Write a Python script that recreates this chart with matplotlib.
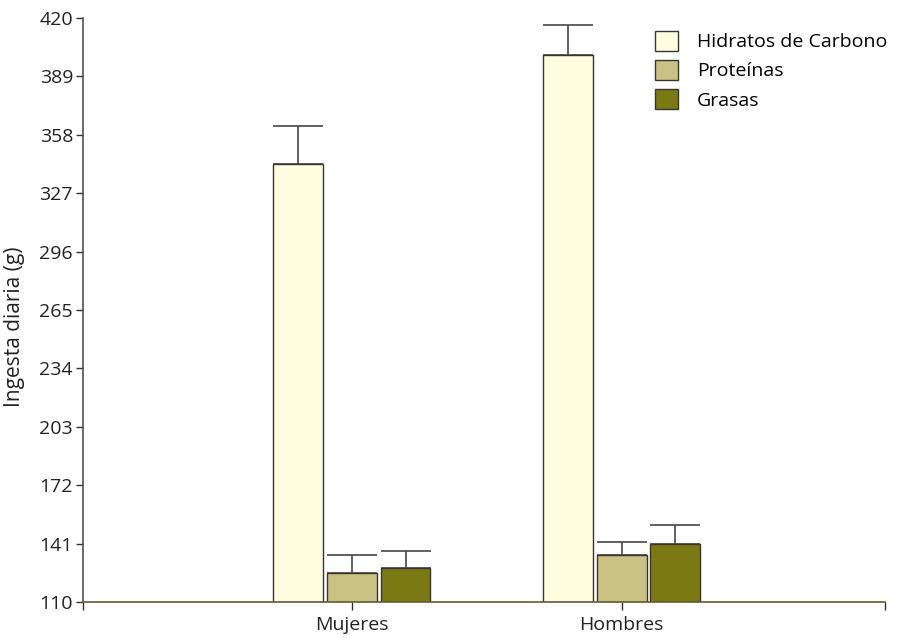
import matplotlib
matplotlib.use("Agg")
import matplotlib.pyplot as plt
import numpy as np

plt.rcParams['font.family'] = ['Open Sans', 'DejaVu Sans']

groups = ["Mujeres", "Hombres"]
series = ["Hidratos de Carbono", "Proteínas", "Grasas"]
hidratos = [342.5, 400.3]
hidratos_err = [20.2, 16.0]
proteinas = [125.4, 135.0]
proteinas_err = [9.6, 6.8]
grasas = [128.0, 140.8]
grasas_err = [9.0, 10.1]
yticks = [110, 141, 172, 203, 234, 265, 296, 327, 358, 389, 420]

colors = ["#FFFDE0", "#C9C283", "#7B7A12"]
edge = "#3a3530"

fig = plt.figure(figsize=(9, 6.38), dpi=100)
ax = fig.add_axes([0.0919, 0.0564, 0.8914, 0.9154])

x = np.arange(1, len(groups) + 1)
offsets = [-0.2, 0.0, 0.198]
width = 0.185
vals = [hidratos, proteinas, grasas]
errs = [hidratos_err, proteinas_err, grasas_err]
for v, e, off, c, name in zip(vals, errs, offsets, colors, series):
    ax.bar(x + off, np.array(v) - 110, bottom=110, width=width, color=c,
           edgecolor=edge, linewidth=1.0, label=name, zorder=2)
    ax.errorbar(x + off, v, yerr=[np.zeros(len(e)), e], fmt='none',
                ecolor="#4a4548", elinewidth=1.2, capsize=18, capthick=1.2, zorder=1)

xmax = 2.977
ax.set_xlim(0, xmax)
ax.set_ylim(110, 420)
ax.set_yticks(yticks)
ax.set_xticks([0, 1, 2, xmax])
ax.set_xticklabels([""] + groups + [""])
ax.tick_params(axis='both', labelsize=14, colors="#333030", labelcolor="#222222",
               length=5, width=1)
ax.tick_params(axis='x', pad=4, length=6)
ax.tick_params(axis='y', pad=2)
ax.set_ylabel("Ingesta diaria (g)", fontsize=15, color="#222222")
ax.yaxis.set_label_coords(-0.0719, 0.471)

for s in ["top", "right"]:
    ax.spines[s].set_visible(False)
ax.spines["left"].set_color("#555050")
ax.spines["bottom"].set_color("#6b5a30")
ax.spines["left"].set_linewidth(1.2)
ax.spines["bottom"].set_linewidth(1.2)

leg = ax.legend(loc="upper left", bbox_to_anchor=(0.7133, 0.9784), frameon=False,
                fontsize=14, handlelength=1.2, handleheight=1.2,
                labelspacing=0.45, handletextpad=0.95, borderpad=0, borderaxespad=0)

fig.savefig("out.png", dpi=100)
